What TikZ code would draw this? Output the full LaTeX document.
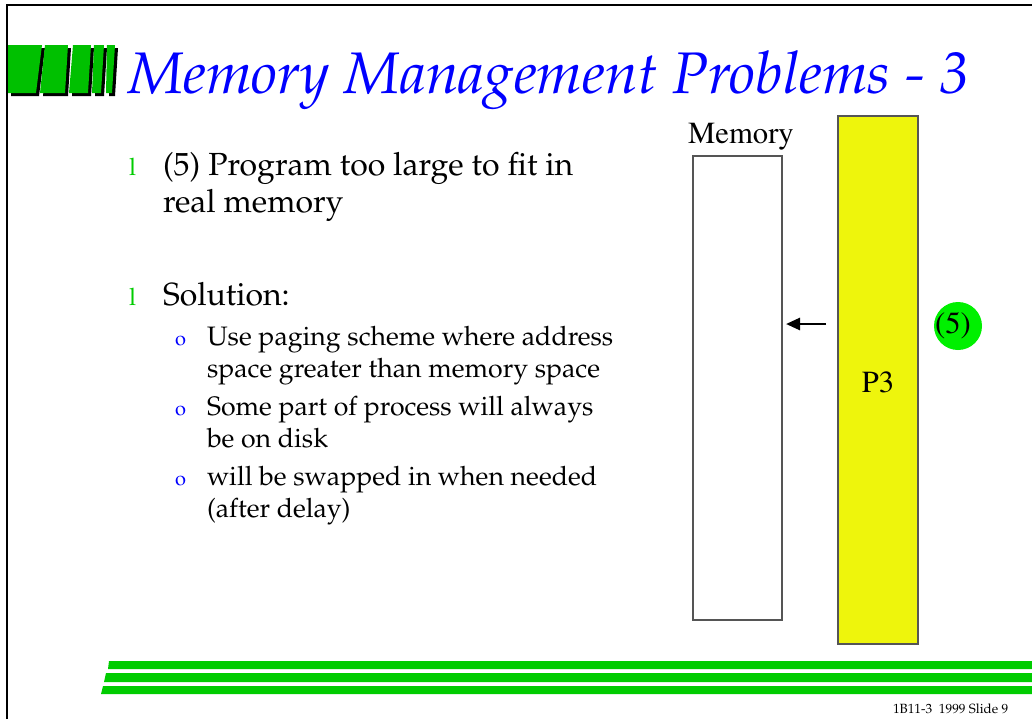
\documentclass[tikz,border=0pt]{standalone}
\usepackage[T1]{fontenc}
\renewcommand{\rmdefault}{ppl}
\usetikzlibrary{arrows.meta}
\newcommand{\timesface}{\fontfamily{ptm}\selectfont}

\definecolor{logogreen}{RGB}{0,192,0}
\definecolor{rulegreen}{RGB}{0,204,0}
\definecolor{titleblue}{RGB}{0,0,255}
\definecolor{pagefill}{RGB}{238,245,12}
\definecolor{boxedge}{RGB}{85,85,85}
\definecolor{markgreen}{RGB}{0,240,0}

\tikzset{
  txt/.style={anchor=base west, inner sep=0pt, outer sep=0pt},
  maintxt/.style={txt, font=\fontsize{24}{29}\selectfont},
  subtxt/.style={txt, font=\fontsize{20}{24}\selectfont},
  bulletl/.style={txt, text=rulegreen, font=\fontsize{18}{20}\selectfont},
  bulleto/.style={txt, text=titleblue, font=\fontsize{15}{17}\selectfont},
  logoblock/.style={fill=logogreen},
  logoshadow/.style={fill=black},
  stripe/.style={fill=rulegreen},
  membox/.style={draw=boxedge, line width=1.6pt, fill=white},
  procbox/.style={draw=boxedge, line width=1.6pt, fill=pagefill},
  serifsm/.style={font=\timesface\fontsize{23}{27}\selectfont, inner sep=0pt},
}

\begin{document}
\begin{tikzpicture}[x=0.75pt,y=-0.75pt]
\useasboundingbox (0,0) rectangle (1032,719);
\fill[white] (0,0) rectangle (1032,719);

% slide frame
\draw[line width=1.9pt] (7,719) -- (7,5) -- (1032,5);

% title logo: slanted green blocks with shadows
\foreach \a/\b/\c/\d in {8/42/36/8, 45/68/65/40, 73/91/88/69, 94/104/101/92, 107/115/112/106}{
  \fill[logoshadow] (\a+3,48) -- (\b+3,48) -- (\c+3,96) -- (\d+3,96) -- cycle;
  \fill[logoblock] (\a,45) -- (\b,45) -- (\c,93) -- (\d,93) -- cycle;
}

% title
\node[txt, text=titleblue, font=\itshape\fontsize{44}{50}\selectfont] (title) at (128,93) {Memory Management Problems - 3};

% bullet list
\node[bulletl] (b1) at (129,175) {l};
\node[maintxt] (t1a) at (163,175) {(5) Program too large to fit in};
\node[maintxt] (t1b) at (163,212) {real memory};

\node[bulletl] (b2) at (129,305) {l};
\node[maintxt] (t2) at (163,305) {Solution:};

\node[bulleto] (s1) at (175,345) {o};
\node[subtxt] (s1a) at (207,345) {Use paging scheme where address};
\node[subtxt] (s1b) at (207,377) {space greater than memory space};

\node[bulleto] (s2) at (175,415) {o};
\node[subtxt] (s2a) at (207,415) {Some part of process will always};
\node[subtxt] (s2b) at (207,447) {be on disk};

\node[bulleto] (s3) at (175,485) {o};
\node[subtxt] (s3a) at (207,485) {will be swapped in when needed};
\node[subtxt] (s3b) at (207,517) {(after delay)};

% memory and process boxes
\draw[membox] (693,156) rectangle (782,620);
\node[serifsm, anchor=base] (memlabel) at (741,143) {Memory};
\coordinate (memedge) at (786,324);

\draw[procbox] (838,116) rectangle (918,644);
\node[serifsm, anchor=base] (p3) at (878,392) {P3};
\coordinate (procedge) at (826,324);

\draw[line width=2pt, -{Triangle[length=10.5pt,width=9pt]}] (procedge) -- (memedge);

% problem marker
\node[circle, fill=markgreen, minimum size=36pt, inner sep=0pt] (mark) at (958,326) {};
\node[serifsm, anchor=center] (marktext) at (953,326) {(5)};

% footer stripes
\fill[stripe] (109,661) -- (1032,661) -- (1032,669) -- (108,669) -- cycle;
\fill[stripe] (106,673) -- (1032,673) -- (1032,682) -- (104,682) -- cycle;
\fill[stripe] (103,686) -- (1032,686) -- (1032,694) -- (101,694) -- cycle;

\node[txt, font=\fontsize{10}{12}\selectfont] (footer) at (893,713) {1B11-3\ \ 1999 Slide 9};
\end{tikzpicture}
\end{document}
